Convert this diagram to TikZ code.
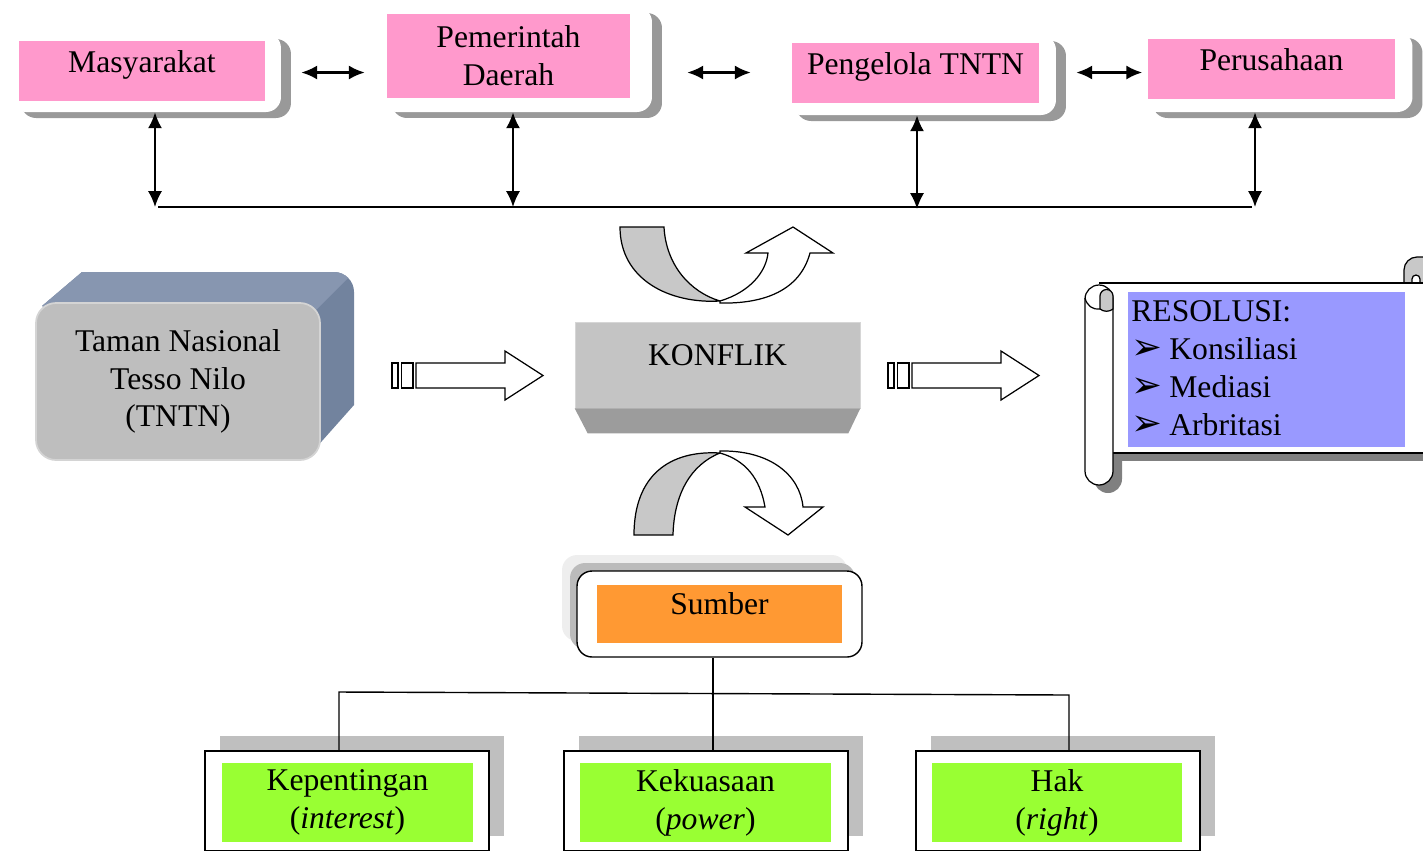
\documentclass[tikz,border=0pt]{standalone}
\usepackage{fontspec}
\setmainfont{Liberation Serif}
\newfontfamily\dejavu{DejaVu Sans}
\usepackage{tikz}
\usetikzlibrary{arrows.meta,shadows,calc}
\definecolor{pinkc}{HTML}{FF99CC}
\definecolor{bluec}{HTML}{9999FF}
\definecolor{orangec}{HTML}{FF9933}
\definecolor{greenc}{HTML}{99FF33}
\definecolor{tntnfront}{HTML}{BEBEBE}
\definecolor{tntnedge}{HTML}{D4D4D4}
\definecolor{slatetop}{HTML}{8796B0}
\definecolor{slateside}{HTML}{72839E}
\definecolor{konfc}{HTML}{C4C4C4}
\definecolor{konfdark}{HTML}{9C9C9C}
\definecolor{uturnc}{HTML}{C8C8C8}
\definecolor{shadowgray}{HTML}{999999}
\definecolor{lightshadow}{HTML}{EEEEEE}
\definecolor{midshadow}{HTML}{BBBBBB}
\definecolor{boxshadow}{HTML}{BFBFBF}
\definecolor{scrollshadow}{HTML}{808080}
\newcommand{\bul}{\makebox[0.76cm][l]{\dejavu\fontsize{21}{21}\selectfont ➢}}

\begin{document}
\begin{tikzpicture}[x=0.02cm, y=-0.02cm,
    every node/.style={font=\fontsize{18}{21.5}\selectfont},
    topbox/.style={fill=white, rounded corners=0.3cm, minimum width=5.4cm,
        drop shadow={shadow xshift=0.2cm, shadow yshift=-0.12cm, fill=shadowgray, opacity=1}},
    pinkbox/.style={fill=pinkc, inner sep=0pt, minimum width=4.94cm, align=center},
    oneline/.style={text height=12pt, text depth=10pt},
    dbl/.style={{Latex[length=9pt,width=8pt]}-{Latex[length=9pt,width=8pt]}, line width=1.2pt},
    outline/.style={draw=black, line width=0.7pt},
    lowbox/.style={draw, line width=0.8pt, fill=white, minimum width=5.68cm, minimum height=2cm,
        drop shadow={shadow xshift=0.3cm, shadow yshift=0.3cm, fill=boxshadow, opacity=1}},
    greenbox/.style={fill=greenc, inner sep=0pt, minimum width=5.02cm, minimum height=1.58cm, align=center}]
  \useasboundingbox (0,0) rectangle (1423,850);

  % Top row: the parties
  \node[topbox, minimum height=1.58cm] (masy) at (146,72.5) {};
  \node[topbox, minimum height=2.1cm] (pemda) at (517,59.5) {};
  \node[topbox, minimum height=1.6cm] (peng) at (921,75) {};
  \node[topbox, minimum height=1.6cm] (perus) at (1277.5,72) {};
  \node[pinkbox, oneline, minimum height=1.2cm] (masyt) at (142,71) {Masyarakat};
  \node[pinkbox, minimum width=4.86cm, minimum height=1.68cm] (pemdat) at (508.5,56) {Pemerintah\\Daerah};
  \node[pinkbox, oneline, minimum height=1.2cm] (pengt) at (915.5,73) {Pengelola TNTN};
  \node[pinkbox, oneline, minimum height=1.2cm] (perust) at (1271.5,69) {Perusahaan};

  % Arrows between parties
  \draw[dbl, shorten <=0.4cm, shorten >=0.34cm] (masy.east) -- (masy.east -| pemda.west);
  \draw[dbl, shorten <=0.7cm, shorten >=0.7cm] (pemda.east |- masy.east) -- (masy.east -| peng.west);
  \draw[dbl, shorten <=0.4cm] (peng.east |- masy.east) -- (masy.east -| perus.west);

  % Bus line
  \coordinate (b1) at (155,207);
  \coordinate (b2) at (513,207);
  \coordinate (b3) at (917,209);
  \coordinate (b4) at (1255,207);
  \draw[dbl] (masy.south -| b1) -- (b1);
  \draw[dbl] (pemda.south -| b2) -- (b2);
  \draw[dbl] (peng.south -| b3) -- (b3);
  \draw[dbl] (perus.south -| b4) -- (b4);
  \draw[line width=1.2pt] (158,207) -- (1252,207);

  % Taman Nasional block
  \fill[slateside] (42,306) -- (82,272) -- (334,272) arc[start angle=270, end angle=360, radius=20]
    -- (354,405) -- (314,450) -- cycle;
  \fill[slatetop] (42,306) -- (82,272) -- (334,272) arc[start angle=270, end angle=315, radius=20]
    -- (314,312) -- cycle;
  \node[draw=tntnedge, line width=1pt, fill=tntnfront, rounded corners=0.4cm, minimum width=5.68cm,
    minimum height=3.14cm, align=center] (tntn) at (178,381.5) {Taman Nasional\\Tesso Nilo\\(TNTN)};

  % Striped arrows
  \foreach \x in {392,888}{
    \draw[outline, fill=white] (\x,363) rectangle (\x+6,388);
    \draw[outline, fill=white] (\x+9.5,363) rectangle (\x+21,388);
    \draw[outline, fill=white] (\x+24,363) -- (\x+113,363) -- (\x+113,351) -- (\x+151,375.5)
      -- (\x+113,400) -- (\x+113,388) -- (\x+24,388) -- cycle;
  }

  % Konflik
  \node[fill=konfc, draw=konfc!70!white, minimum width=5.7cm, minimum height=1.72cm,
    text height=12pt, text depth=12pt] (konf) at (717.5,365) {KONFLIK};
  \fill[konfdark] (konf.south west) -- (konf.south east) -- ++(-12,25)
    -- ($(konf.south west)+(13,25)$) -- cycle;

  % U-turn arrows
  \filldraw[outline, fill=uturnc] (620,227) -- (664,227) .. controls (666,265) and (690,292) .. (720,301)
    .. controls (670,304) and (620,280) .. (620,227) -- cycle;
  \filldraw[outline, fill=white] (720,301) .. controls (750,292) and (766,272) .. (768,253)
    -- (746,253) -- (793,227) -- (833,253) -- (810,253)
    .. controls (800,290) and (765,304) .. (720,303) -- cycle;
  \filldraw[outline, fill=uturnc] (634,535) -- (673,535) .. controls (674,495) and (690,465) .. (720,453)
    .. controls (670,450) and (634,475) .. (634,535) -- cycle;
  \filldraw[outline, fill=white] (720,451) .. controls (770,450) and (800,475) .. (803,507)
    -- (823,507) -- (788,535) -- (745,507) -- (765,507)
    .. controls (760,478) and (745,460) .. (720,453) -- cycle;

  % Scroll with resolutions
  \begin{scope}[shift={(9,8)}]
    \fill[scrollshadow] (1099,283) rectangle (1440,453);
    \fill[scrollshadow, rounded corners=0.28cm] (1085,285) rectangle (1113,485);
  \end{scope}
  \filldraw[outline, fill=uturnc] (1404,283) -- (1404,270) arc[start angle=180, end angle=270, radius=13]
    -- (1440,257) -- (1440,283) -- cycle;
  \filldraw[outline, fill=white] (1412,283) -- (1412,279) arc[start angle=180, end angle=360, radius=4] -- (1420,283);
  \filldraw[outline, fill=white] (1099,283) -- (1440,283) -- (1440,453) -- (1113,453);
  \draw[outline, fill=white, rounded corners=0.28cm] (1085,285) rectangle (1113,485);
  \filldraw[outline, fill=uturnc] (1100,309) -- (1100,296) arc[start angle=180, end angle=360, radius=6.5]
    -- (1113,309) .. controls (1109,312) and (1104,312) .. (1100,309);
  \draw[outline] (1085,298) .. controls (1087,306) and (1093,310) .. (1100,309);
  \node[fill=bluec, anchor=north west, text width=5.42cm, inner xsep=0.06cm, inner ysep=0pt,
    minimum height=3.1cm, text height=12.5pt, text depth=67pt, align=left] (resol) at (1128,292)
    {RESOLUSI:\\\bul Konsiliasi\\\bul Mediasi\\\bul Arbritasi};

  % Sumber
  \node[draw, line width=0.8pt, fill=white, rounded corners=0.3cm, minimum width=5.7cm, minimum height=1.72cm,
    drop shadow={shadow xshift=-0.3cm, shadow yshift=0.32cm, fill=lightshadow, opacity=1},
    drop shadow={shadow xshift=-0.14cm, shadow yshift=0.16cm, fill=midshadow, opacity=1}] (sumber) at (719.5,614) {};
  \node[fill=orangec, minimum width=4.9cm, minimum height=1.16cm, text height=12pt, text depth=12pt] (sumbert) at (719.5,614) {Sumber};

  % Sources of conflict
  \node[lowbox] (kepb) at (347,801) {};
  \node[lowbox] (kekb) at (706,801) {};
  \node[lowbox] (hakb) at (1058,801) {};
  \node[greenbox] (kept) at (347.5,802.5) {Kepentingan\\(\textit{interest})};
  \node[greenbox] (kekt) at (705.5,802.5) {Kekuasaan\\(\textit{power})};
  \node[greenbox] (hakt) at (1057,802.5) {Hak\\(\textit{right})};

  % Tree
  \coordinate (t1) at (339,692);
  \coordinate (t2) at (713,693.5);
  \coordinate (t3) at (1069,695);
  \draw[line width=0.8pt] (sumber.south -| t2) -- (t2 |- kekb.north);
  \draw[line width=0.8pt] (kepb.north -| t1) -- (t1) -- (t3) -- (t3 |- hakb.north);
\end{tikzpicture}
\end{document}
